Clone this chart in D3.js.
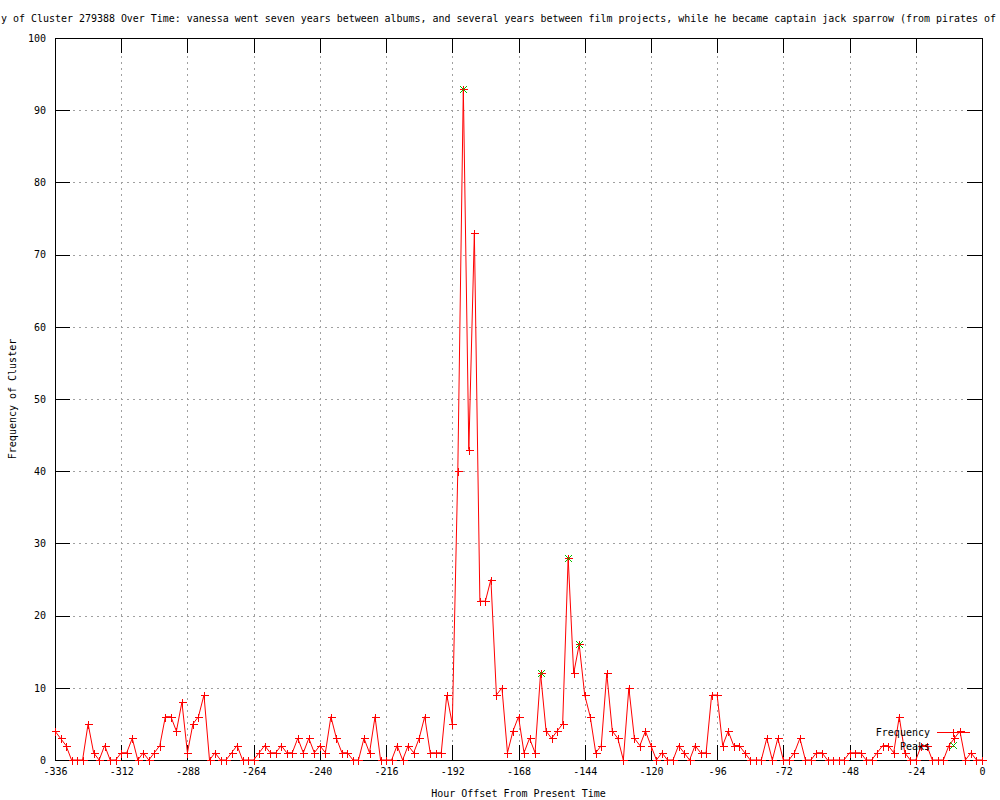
<!DOCTYPE html>
<html>
<head>
<meta charset="utf-8">
<script src="https://cdn.jsdelivr.net/npm/d3@7"></script>
<style>
  html, body { margin: 0; padding: 0; background: #fff; }
  svg { display: block; }
  text { font-family: "DejaVu Sans Mono", "Liberation Mono", monospace; font-size: 10px; fill: #000; }
</style>
</head>
<body>
<svg id="chart" width="1000" height="800"></svg>
<script>
// ---- data ----
const titleText = "y of Cluster 279388 Over Time: vanessa went seven years between albums, and several years between film projects, while he became captain jack sparrow (from pirates of";
const xLabel = "Hour Offset From Present Time";
const yLabel = "Frequency of Cluster";
const seriesNames = ["Frequency", "Peaks"];

const hours = [-336,-334,-332,-330,-328,-326,-324,-322,-320,-318,-316,-314,-312,-310,-308,-306,-304,-302,-300,-298,
  -296,-294,-292,-290,-288,-286,-284,-282,-280,-278,-276,-274,-272,-270,-268,-266,-264,-262,-260,-258,
  -256,-254,-252,-250,-248,-246,-244,-242,-240,-238,-236,-234,-232,-230,-228,-226,-224,-222,-220,-218,
  -216,-214,-212,-210,-208,-206,-204,-202,-200,-198,-196,-194,-192,-190,-188,-186,-184,-182,-180,-178,
  -176,-174,-172,-170,-168,-166,-164,-162,-160,-158,-156,-154,-152,-150,-148,-146,-144,-142,-140,-138,
  -136,-134,-132,-130,-128,-126,-124,-122,-120,-118,-116,-114,-112,-110,-108,-106,-104,-102,-100,-98,
  -96,-94,-92,-90,-88,-86,-84,-82,-80,-78,-76,-74,-72,-70,-68,-66,-64,-62,-60,-58,
  -56,-54,-52,-50,-48,-46,-44,-42,-40,-38,-36,-34,-32,-30,-28,-26,-24,-22,-20,-18,
  -16,-14,-12,-10,-8,-6,-4,-2,0];
const frequency = [4,3,2,0,0,0,5,1,0,2,0,0,1,1,3,0,1,0,1,2,
  6,6,4,8,1,5,6,9,0,1,0,0,1,2,0,0,0,1,2,1,
  1,2,1,1,3,1,3,1,2,1,6,3,1,1,0,0,3,1,6,0,
  0,0,2,0,2,1,3,6,1,1,1,9,5,40,93,43,73,22,22,25,
  9,10,1,4,6,1,3,1,12,4,3,4,5,28,12,16,9,6,1,2,
  12,4,3,0,10,3,2,4,2,0,1,0,0,2,1,0,2,1,1,9,
  9,2,4,2,2,1,0,0,0,3,0,3,0,0,1,3,0,0,1,1,
  0,0,0,0,1,1,1,0,0,1,2,2,1,6,1,0,0,2,2,0,
  0,0,2,3,4,0,1,0,0];
const peakHours = [-188, -160, -150, -146];
const peakValues = [93, 12, 28, 16];

const xTicks = [-336,-312,-288,-264,-240,-216,-192,-168,-144,-120,-96,-72,-48,-24,0];
const yTicks = [0,10,20,30,40,50,60,70,80,90,100];

// ---- drawing ----
const svg = d3.select("#chart");
const L = 55, R = 982, T = 38, B = 760;
const x = d3.scaleLinear().domain([-336, 0]).range([L, R]);
const y = d3.scaleLinear().domain([0, 100]).range([B, T]);
const red = "#ff0000", green = "#00c000", gridCol = "#a0a0a0";
const tick = 15;

// grid
const grid = svg.append("g").attr("shape-rendering", "crispEdges");
grid.selectAll("line.gx").data(xTicks.filter(d => d !== -336 && d !== 0)).join("line")
  .attr("x1", d => Math.round(x(d)) + 0.5).attr("x2", d => Math.round(x(d)) + 0.5)
  .attr("y1", T).attr("y2", B)
  .attr("stroke", gridCol).attr("stroke-dasharray", "2,4");
grid.selectAll("line.gy").data(yTicks.filter(d => d !== 0 && d !== 100)).join("line")
  .attr("y1", d => Math.round(y(d)) + 0.5).attr("y2", d => Math.round(y(d)) + 0.5)
  .attr("x1", L).attr("x2", R)
  .attr("stroke", gridCol).attr("stroke-dasharray", "2,4");

// axes with inward ticks
const fmt = d => String(d);
const axB = svg.append("g").attr("transform", `translate(0,${B})`)
  .call(d3.axisBottom(x).tickValues(xTicks).tickFormat(fmt).tickSizeInner(-tick).tickSizeOuter(0).tickPadding(8));
const axT = svg.append("g").attr("transform", `translate(0,${T})`)
  .call(d3.axisTop(x).tickValues(xTicks).tickFormat("").tickSizeInner(-tick).tickSizeOuter(0));
const axL = svg.append("g").attr("transform", `translate(${L},0)`)
  .call(d3.axisLeft(y).tickValues(yTicks).tickFormat(fmt).tickSizeInner(-tick).tickSizeOuter(0).tickPadding(9));
const axRt = svg.append("g").attr("transform", `translate(${R},0)`)
  .call(d3.axisRight(y).tickValues(yTicks).tickFormat("").tickSizeInner(-tick).tickSizeOuter(0));
[axB, axT, axL, axRt].forEach(g => {
  g.select(".domain").remove();
  g.selectAll("line").attr("stroke", "#000").attr("shape-rendering", "crispEdges");
  g.selectAll("text").attr("font-family", null).attr("font-size", null).attr("fill", "#000");
});

// border
svg.append("rect").attr("x", L + 0.5).attr("y", T + 0.5)
  .attr("width", R - L).attr("height", B - T)
  .attr("fill", "none").attr("stroke", "#000").attr("shape-rendering", "crispEdges");

// frequency line
const pts = hours.map((h, i) => [h, frequency[i]]);
svg.append("path").datum(pts)
  .attr("d", d3.line().x(d => x(d[0])).y(d => y(d[1])))
  .attr("fill", "none").attr("stroke", red).attr("stroke-width", 1);

// plus markers
const plus = (px, py, s) => `M${px - s},${py}H${px + s}M${px},${py - s}V${py + s}`;
const cross = (px, py, s) => `M${px - s},${py - s}L${px + s},${py + s}M${px - s},${py + s}L${px + s},${py - s}`;
svg.append("path")
  .attr("d", pts.map(d => plus(Math.round(x(d[0])) + 0.5, Math.round(y(d[1])) + 0.5, 4)).join(""))
  .attr("fill", "none").attr("stroke", red).attr("stroke-width", 1).attr("shape-rendering", "crispEdges");

// peaks
svg.append("path")
  .attr("d", peakHours.map((h, i) => cross(Math.round(x(h)) + 0.5, Math.round(y(peakValues[i])) + 0.5, 3.5)).join(""))
  .attr("fill", "none").attr("stroke", green).attr("stroke-width", 1);

// legend
const lg = svg.append("g");
lg.append("text").attr("x", 930).attr("y", 736).attr("text-anchor", "end").text(seriesNames[0]);
lg.append("path").attr("d", `M937,732.5H970`).attr("stroke", red).attr("shape-rendering", "crispEdges");
lg.append("path").attr("d", plus(953.5, 732.5, 4)).attr("stroke", red).attr("fill", "none").attr("shape-rendering", "crispEdges");
lg.append("text").attr("x", 930).attr("y", 750).attr("text-anchor", "end").text(seriesNames[1]);
lg.append("path").attr("d", cross(953.5, 745.5, 3.5)).attr("stroke", green).attr("fill", "none");

// title & labels
svg.append("text").attr("x", 1).attr("y", 22)
  .attr("textLength", 995).attr("lengthAdjust", "spacingAndGlyphs").text(titleText);
svg.append("text").attr("x", (L + R) / 2).attr("y", 797).attr("text-anchor", "middle").text(xLabel);
svg.append("text").attr("transform", `translate(16,${(T + B) / 2}) rotate(-90)`)
  .attr("text-anchor", "middle").text(yLabel);
</script>
</body>
</html>
